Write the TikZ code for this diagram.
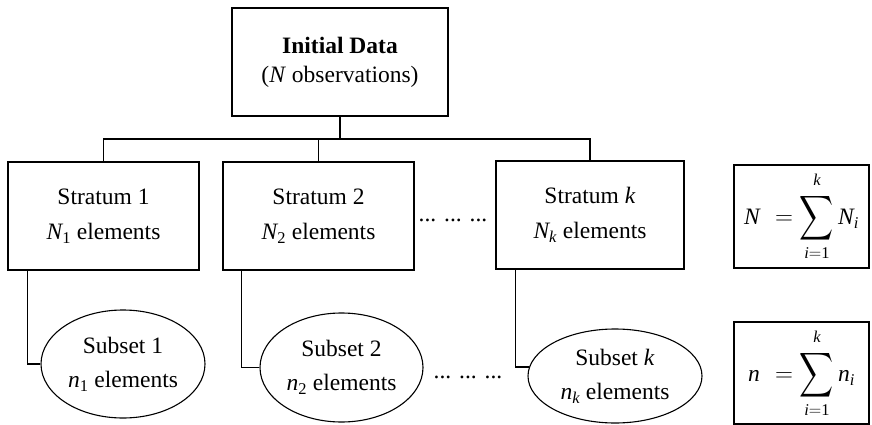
\documentclass[tikz,border=0pt]{standalone}
\usepackage{amsmath}
\usepackage{fontspec}
\setmainfont{Liberation Serif}
\usepackage{graphicx}
\usetikzlibrary{shapes.geometric}
\newcommand{\bigsumop}{\mathop{\vcenter{\hbox{\scalebox{0.95}[1.25]{$\displaystyle\sum$}}}}}
\newcommand{\upk}{\raisebox{3pt}{$\scriptstyle\mathit{k}$}}
\begin{document}
\begin{tikzpicture}[x=1pt,y=-1pt,line width=1.1pt,
  box/.style={draw,rectangle,inner sep=0pt,align=center,font=\fontsize{23.5}{35}\selectfont},
  oval/.style={draw,ellipse,inner sep=0pt},
  txt/.style={inner sep=0pt,align=center,font=\fontsize{23.5}{34}\selectfont},
  dotrow/.style={inner sep=0pt,anchor=base,font=\fontsize{23.5}{28}\selectfont}]
\useasboundingbox (0,0) rectangle (872,425);

\node[box,minimum width=216pt,minimum height=108pt,font=\fontsize{23.5}{29}\selectfont] (top) at (340,62)
  {\textbf{Initial Data}\\(\textit{N} observations)};

\node[box,minimum width=191pt,minimum height=108pt] (st1) at (103.5,216)
  {Stratum 1\\$\mathit{N}_{\mathrm{1}}$ elements};
\node[box,minimum width=191pt,minimum height=108pt] (st2) at (318.5,216)
  {Stratum 2\\$\mathit{N}_{\mathrm{2}}$ elements};
\node[box,minimum width=188pt,minimum height=108pt] (stk) at (590,215)
  {Stratum \textit{k}\\$\mathit{N}_{\mathit{k}}$ elements};

\node[box,minimum width=135pt,minimum height=103pt] (f1) at (801.5,216.5)
  {$\displaystyle \mathit{N}\,\, = \bigsumop\limits_{\mathit{i}=\mathrm{1}}^{\upk} \mathit{N}_{\mathit{i}}$};
\node[box,minimum width=135pt,minimum height=102pt] (f2) at (801.5,373)
  {$\displaystyle \mathit{n}\,\, = \bigsumop\limits_{\mathit{i}=\mathrm{1}}^{\upk} \mathit{n}_{\mathit{i}}$};

\node[oval,minimum width=164pt,minimum height=108pt] (s1) at (123,364) {};
\node[txt] (s1t) at (s1) {Subset 1\\$\mathit{n}_{\mathrm{1}}$ elements};
\node[oval,minimum width=163pt,minimum height=109pt] (s2) at (341.5,367.5) {};
\node[txt] (s2t) at (s2) {Subset 2\\$\mathit{n}_{\mathrm{2}}$ elements};
\node[oval,minimum width=174pt,minimum height=94pt] (sk) at (615,376) {};
\node[txt] (skt) at (sk) {Subset \textit{k}\\$\mathit{n}_{\mathit{k}}$ elements};

\node[dotrow] (d1) at (453,221) {... ... ...};
\node[dotrow] (d2) at (468,378) {... ... ...};

\coordinate (bus) at (0,139);
\draw (st1.north) -- (st1.north |- bus) -- (stk.north |- bus) -- (stk.north);
\draw (st2.north) -- (st2.north |- bus);
\draw[line width=1.8pt] (top.south) -- (top.south |- bus);
\draw ([xshift=20pt]st1.south west) |- (s1.west);
\draw ([xshift=19pt]st2.south west) |- (s2.west);
\draw ([xshift=20pt]stk.south west) |- (sk.174);
\end{tikzpicture}
\end{document}
